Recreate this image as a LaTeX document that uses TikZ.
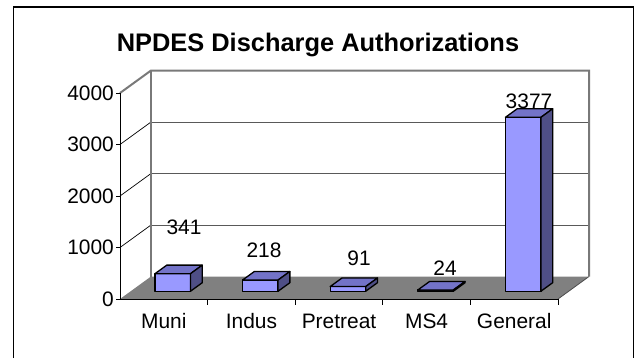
\documentclass[tikz,border=0pt]{standalone}
\usepackage{fontspec}
\setmainfont{Liberation Sans}
\begin{document}
\begin{tikzpicture}[x=1bp,y=-1bp,
  lbl/.style={inner sep=0pt,font=\fontsize{21}{24}\selectfont},
  walledge/.style={draw=gray!95!black,line width=2bp},
  gridh/.style={draw=black!65,line width=1bp},
  gridd/.style={draw=black,line width=0.7bp},
  axisline/.style={draw=black,line width=1bp},
  barfront/.style={fill=barA,draw=black,line width=1.3bp,line join=round},
  bartop/.style={fill=barB,draw=black,line width=1.3bp,line join=round},
  barside/.style={fill=barC,draw=black,line width=1.3bp,line join=round}]
\definecolor{barA}{HTML}{9999FF}
\definecolor{barB}{HTML}{7373C8}
\definecolor{barC}{HTML}{4F4F86}
\definecolor{floorgray}{HTML}{808080}

\useasboundingbox (0,0) rectangle (634,358);

% outer frame (runs off the bottom edge)
\draw[black,line width=1.3bp] (13.5,358) -- (13.5,7) -- (633.3,7) -- (633.3,358);

% title
\node[inner sep=0pt,anchor=base,font=\fontsize{25.5}{30}\selectfont\bfseries] (title) at (318,51.5) {NPDES Discharge Authorizations};

% floor of the plot area
\fill[floorgray] (120,299) -- (558,299) -- (589,276.5) -- (151,276.5) -- cycle;
\draw[draw=black!70,line width=0.8bp] (558,299) -- (589,276.5);

% gridlines: side wall diagonals and back wall horizontals
\foreach \v in {1000,2000,3000}{
  \pgfmathsetmacro\yy{299-0.0515*\v}
  \draw[gridd] (120,\yy) -- ({151},{\yy-22.5});
  \draw[gridh] (151,{\yy-22.5}) -- (589,{\yy-22.5});
}

% back wall frame
\draw[walledge,line join=miter] (120,93) -- (151,70.5) -- (589,70.5) -- (589,276.5);
\draw[walledge] (151,70.5) -- (151,276.5);

% axes and tick marks
\draw[axisline] (120,93) -- (120,299) -- (558,299);
\foreach \v in {0,1000,2000,3000,4000}{
  \pgfmathsetmacro\yy{299-0.0515*\v}
  \draw[axisline] (116,\yy) -- (120,\yy);
  \node[lbl,anchor=east] (tick\v) at (114,\yy) {\v};
}
\foreach \k in {1,...,5}{
  \draw[axisline] ({120+87.6*\k},299) -- ({120+87.6*\k},305);
}

% category labels
\foreach \k/\name in {0/Muni,1/Indus,2/Pretreat,3/MS4,4/General}{
  \node[lbl,anchor=base] (cat\k) at ({120+87.6*(\k+0.5)},328) {\name};
}

% 3-D bars
\newcommand\chartbar[2]{%
  \pgfmathsetmacro\xl{120+87.6*(#1+0.5)-19.5+31*0.345}%
  \pgfmathsetmacro\xr{\xl+35.5}%
  \pgfmathsetmacro\yb{299-22.5*0.345}%
  \pgfmathsetmacro\yt{\yb-0.0515*#2}%
  \pgfmathsetmacro\ddx{31*0.38}%
  \pgfmathsetmacro\ddy{22.5*0.38}%
  \filldraw[barfront] (\xl,\yb) rectangle (\xr,\yt);
  \filldraw[bartop] (\xl,\yt) -- (\xr,\yt) -- ({\xr+\ddx},{\yt-\ddy}) -- ({\xl+\ddx},{\yt-\ddy}) -- cycle;
  \filldraw[barside] (\xr,\yb) -- ({\xr+\ddx},{\yb-\ddy}) -- ({\xr+\ddx},{\yt-\ddy}) -- (\xr,\yt) -- cycle;
}
\chartbar{0}{341}
\chartbar{1}{218}
\chartbar{2}{91}
\chartbar{3}{24}
\chartbar{4}{3377}

% value labels
\node[lbl] (val0) at (184,227) {341};
\node[lbl] (val1) at (264,250) {218};
\node[lbl] (val2) at (359,258) {91};
\node[lbl] (val3) at (445,268) {24};
\node[lbl] (val4) at (529,101) {3377};
\end{tikzpicture}
\end{document}
